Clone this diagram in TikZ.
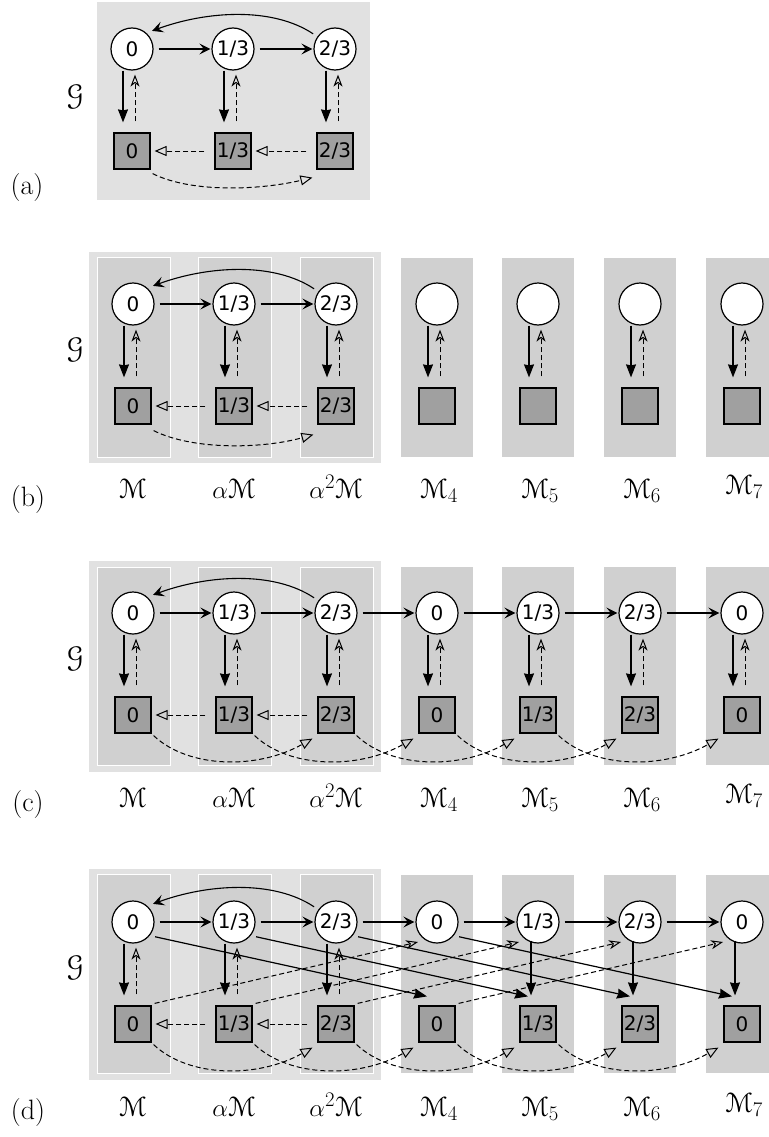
\documentclass[tikz,border=0pt]{standalone}
\usepackage{fontspec}
\usepackage{eucal}
\usetikzlibrary{arrows.meta}
\newfontfamily\nodefont{DejaVu Sans}
\definecolor{panelbg}{HTML}{E1E1E1}
\definecolor{colbg}{HTML}{D0D0D0}
\definecolor{sqfill}{HTML}{A0A0A0}
\newcommand\lab[1]{\ifcase#1\or 0\or 1/3\or 2/3\or 0\or 1/3\or 2/3\or 0\fi}
\tikzset{
  state/.style={circle, draw, fill=white, line width=1.2pt, minimum size=42pt, inner sep=0pt, font=\nodefont\fontsize{20}{20}\selectfont},
  mem/.style={rectangle, draw, fill=sqfill, line width=1.2pt, minimum size=36pt, inner sep=0pt, font=\nodefont\fontsize{20}{20}\selectfont},
  tr/.style={line width=1.1pt, -{Stealth[length=11pt,width=11pt,inset=4.5pt]}, shorten <=5pt, shorten >=1pt},
  loopback/.style={line width=1.1pt, -{Stealth[length=11pt,width=11pt,inset=4.5pt]}, shorten <=5pt, shorten >=6pt},
  down/.style={line width=1.2pt, -{Stealth[length=13pt,width=10pt,inset=1pt]}},
  up/.style={line width=1pt, dash pattern=on 5pt off 3pt, -{Stealth[open,length=12pt,width=9pt,inset=3.5pt]}},
  sq/.style={line width=1pt, dash pattern=on 5pt off 3pt, -{Triangle[open,length=12pt,width=10pt]}},
  lbl/.style={anchor=base, font=\fontsize{28}{30}\selectfont},
  plbl/.style={font=\fontsize{28}{30}\selectfont},
  glbl/.style={font=\fontsize{30}{32}\selectfont}
}
\begin{document}
\begin{tikzpicture}[x=1pt,y=-1pt]
\useasboundingbox (0,0) rectangle (768,1137);

% ---------------- panel (a)
\begin{scope}[shift={(0,49)}]
  \fill[panelbg] (97,-47) rectangle (370,151);
  \foreach \i/\x in {1/132,2/233,3/335}{
    \node[state] (aC\i) at (\x,0) {\lab{\i}};
    \node[mem] (aS\i) at (\x,102) {\lab{\i}};
    \draw[down] ([xshift=-9pt]aC\i.south) -- ([xshift=-9pt,yshift=10pt]aS\i.north);
    \draw[up] ([xshift=3pt,yshift=11pt]aS\i.north) -- ([xshift=3pt,yshift=-4pt]aC\i.south);
  }
  \draw[tr] (aC1) -- (aC2);
  \draw[tr] (aC2) -- (aC3);
  \draw[loopback] (aC3.145) .. controls +(-45,-30) and +(60,-22) .. (aC1.48);
  \draw[sq, shorten <=10pt, shorten >=4pt] (aS2) -- (aS1);
  \draw[sq, shorten <=10pt, shorten >=4pt] (aS3) -- (aS2);
  \draw[sq] ([shift={(2,4)}]aS1.south east) .. controls +(40,20) and +(-50,12) .. ([shift={(-4,8)}]aS3.south west);
  \node[glbl] (aG) at (75,48) {$\mathcal{G}$};
  \node[plbl] (aL) at (27,139) {(a)};
\end{scope}

% ---------------- panel (b)
\begin{scope}[shift={(0,304)}]
  \fill[panelbg] (89,-52) rectangle (381,159);
  \foreach \x in {133,234,336}{\filldraw[fill=colbg, draw=white, line width=1pt] (\x-36,-47) rectangle (\x+37,153);}
  \foreach \x in {437,538,640,742}{\fill[colbg] (\x-36,-46) rectangle (\x+36,153);}
  \foreach \i/\x in {1/133,2/234,3/336}{
    \node[state] (bC\i) at (\x,0) {\lab{\i}};
    \node[mem] (bS\i) at (\x,102) {\lab{\i}};
  }
  \foreach \i/\x in {4/437,5/538,6/640,7/742}{
    \node[state] (bC\i) at (\x,0) {};
    \node[mem] (bS\i) at (\x,102) {};
  }
  \foreach \i in {1,...,7}{
    \draw[down] ([xshift=-9pt]bC\i.south) -- ([xshift=-9pt,yshift=10pt]bS\i.north);
    \draw[up] ([xshift=3pt,yshift=11pt]bS\i.north) -- ([xshift=3pt,yshift=-4pt]bC\i.south);
  }
  \draw[tr] (bC1) -- (bC2);
  \draw[tr] (bC2) -- (bC3);
  \draw[loopback] (bC3.145) .. controls +(-45,-30) and +(60,-22) .. (bC1.48);
  \draw[sq, shorten <=10pt, shorten >=4pt] (bS2) -- (bS1);
  \draw[sq, shorten <=10pt, shorten >=4pt] (bS3) -- (bS2);
  \draw[sq] ([shift={(2,6)}]bS1.south east) .. controls +(40,20) and +(-50,14) .. ([shift={(-4,10)}]bS3.south west);
  \node[glbl] (bG) at (75,46) {$\mathcal{G}$};
  \node[plbl] (bL) at (28,196) {(b)};
  \node[lbl] (bM1) at (133,194) {$\mathcal{M}$};
  \node[lbl] (bM2) at (234,194) {$\alpha\mathcal{M}$};
  \node[lbl] (bM3) at (336,194) {$\alpha^2\mathcal{M}$};
  \node[lbl] (bM4) at (439,194) {$\mathcal{M}_{4}$};
  \node[lbl] (bM5) at (540,194) {$\mathcal{M}_{5}$};
  \node[lbl] (bM6) at (642,194) {$\mathcal{M}_{6}$};
  \node[lbl] (bM7) at (744,190) {$\mathcal{M}_{7}$};
\end{scope}

% ---------------- panel (c)
\begin{scope}[shift={(0,613)}]
  \fill[panelbg] (89,-52) rectangle (381,159);
  \foreach \x in {133,234,336}{\filldraw[fill=colbg, draw=white, line width=1pt] (\x-36,-46) rectangle (\x+37,152);}
  \foreach \x in {437,538,640,742}{\fill[colbg] (\x-36,-46) rectangle (\x+36,152);}
  \foreach \i/\x in {1/133,2/234,3/336,4/437,5/538,6/640,7/742}{
    \node[state] (cC\i) at (\x,0) {\lab{\i}};
    \node[mem] (cS\i) at (\x,102) {\lab{\i}};
    \draw[down] ([xshift=-9pt]cC\i.south) -- ([xshift=-9pt,yshift=10pt]cS\i.north);
    \draw[up] ([xshift=3pt,yshift=11pt]cS\i.north) -- ([xshift=3pt,yshift=-4pt]cC\i.south);
  }
  \foreach \i [evaluate=\i as \j using int(\i+1)] in {1,...,6}{
    \draw[tr] (cC\i) -- (cC\j);
  }
  \draw[loopback] (cC3.145) .. controls +(-45,-30) and +(60,-22) .. (cC1.48);
  \draw[sq, shorten <=10pt, shorten >=4pt] (cS2) -- (cS1);
  \draw[sq, shorten <=10pt, shorten >=4pt] (cS3) -- (cS2);
  \foreach \i [evaluate=\i as \j using int(\i+2)] in {1,...,5}{
    \draw[sq] ([shift={(2,2)}]cS\i.south east) .. controls +(35,33) and +(-55,31) .. ([shift={(-5,5)}]cS\j.south west);
  }
  \node[glbl] (cG) at (75,46) {$\mathcal{G}$};
  \node[plbl] (cL) at (28,192) {(c)};
  \node[lbl] (cM1) at (133,194) {$\mathcal{M}$};
  \node[lbl] (cM2) at (234,194) {$\alpha\mathcal{M}$};
  \node[lbl] (cM3) at (336,194) {$\alpha^2\mathcal{M}$};
  \node[lbl] (cM4) at (439,194) {$\mathcal{M}_{4}$};
  \node[lbl] (cM5) at (540,194) {$\mathcal{M}_{5}$};
  \node[lbl] (cM6) at (642,194) {$\mathcal{M}_{6}$};
  \node[lbl] (cM7) at (744,190) {$\mathcal{M}_{7}$};
\end{scope}

% ---------------- panel (d)
\begin{scope}[shift={(0,922)}]
  \fill[panelbg] (89,-53) rectangle (381,158);
  \foreach \x in {133,234,336}{\filldraw[fill=colbg, draw=white, line width=1pt] (\x-36,-48) rectangle (\x+37,151);}
  \foreach \x in {437,538,640,742}{\fill[colbg] (\x-36,-47) rectangle (\x+36,151);}
  \foreach \i/\x in {1/133,2/234,3/336,4/437,5/538,6/640,7/742}{
    \node[state] (dC\i) at (\x,0) {\lab{\i}};
    \node[mem] (dS\i) at (\x,102) {\lab{\i}};
  }
  \foreach \i in {1,2,3}{
    \draw[down] ([xshift=-9pt]dC\i.south) -- ([xshift=-9pt,yshift=10pt]dS\i.north);
    \draw[up] ([xshift=3pt,yshift=11pt]dS\i.north) -- ([xshift=3pt,yshift=-4pt]dC\i.south);
  }
  \foreach \i in {5,6,7}{
    \draw[down] ([xshift=-7pt,yshift=3pt]dC\i.south) -- ([xshift=-7pt,yshift=10pt]dS\i.north);
  }
  \foreach \i [evaluate=\i as \j using int(\i+1)] in {1,...,6}{
    \draw[tr] (dC\i) -- (dC\j);
  }
  \draw[loopback] (dC3.145) .. controls +(-45,-30) and +(60,-22) .. (dC1.48);
  \draw[sq, shorten <=10pt, shorten >=4pt] (dS2) -- (dS1);
  \draw[sq, shorten <=10pt, shorten >=4pt] (dS3) -- (dS2);
  \foreach \i [evaluate=\i as \j using int(\i+2)] in {1,...,5}{
    \draw[sq] ([shift={(2,2)}]dS\i.south east) .. controls +(35,33) and +(-55,31) .. ([shift={(-5,5)}]dS\j.south west);
  }
  \foreach \i [evaluate=\i as \j using int(\i+3)] in {1,...,4}{
    \draw[down] ([shift={(4,3)}]dC\i.-33) -- ([shift={(-10,-9)}]dS\j.north);
    \draw[up] ([shift={(3,-2)}]dS\i.north east) -- ([shift={(-19,20)}]dC\j.center);
  }
  \node[glbl] (dG) at (75,46) {$\mathcal{G}$};
  \node[plbl] (dL) at (28,190) {(d)};
  \node[lbl] (dM1) at (133,194) {$\mathcal{M}$};
  \node[lbl] (dM2) at (234,194) {$\alpha\mathcal{M}$};
  \node[lbl] (dM3) at (336,194) {$\alpha^2\mathcal{M}$};
  \node[lbl] (dM4) at (439,194) {$\mathcal{M}_{4}$};
  \node[lbl] (dM5) at (540,194) {$\mathcal{M}_{5}$};
  \node[lbl] (dM6) at (642,194) {$\mathcal{M}_{6}$};
  \node[lbl] (dM7) at (744,190) {$\mathcal{M}_{7}$};
\end{scope}
\end{tikzpicture}
\end{document}
